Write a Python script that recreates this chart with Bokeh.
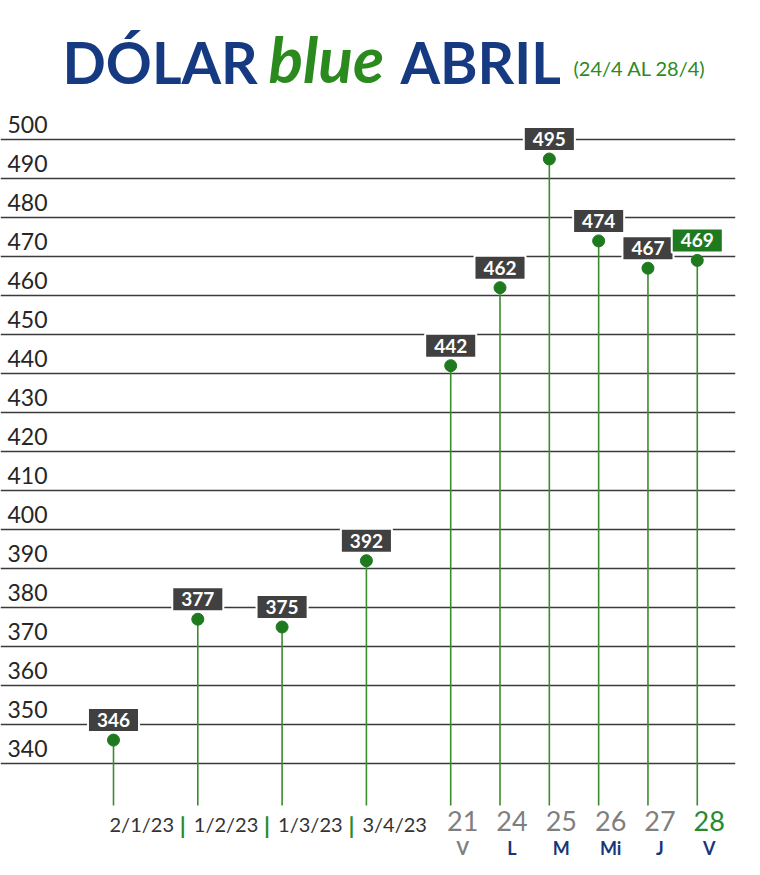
from bokeh.plotting import figure
from bokeh.models import FixedTicker, ColumnDataSource
from bokeh.core.properties import value
from bokeh.embed import file_html
from bokeh.resources import INLINE

# ---- data ----
hist_dates = ["2/1/23", "1/2/23", "1/3/23", "3/4/23"]
hist_values = [346, 377, 375, 392]
week_days = ["21", "24", "25", "26", "27", "28"]
week_letters = ["V", "L", "M", "Mi", "J", "V"]
week_values = [442, 462, 495, 474, 467, 469]
y_ticks = [340, 350, 360, 370, 380, 390, 400, 410, 420, 430, 440, 450, 460, 470, 480, 490, 500]

# ---- layout helpers (reference-pixel -> data) ----
UX = 84.3   # px per x unit
UY = 3.9    # px per y unit
X0_IMG = 113
Y500_IMG = 139

def dx(img_x):
    return (img_x - X0_IMG) / UX

def dy(img_y):
    return 500 + (Y500_IMG - img_y) / UY

def bl(size):
    # correction so that text baseline lands on the given y
    return -0.42 * size

hist_x = [float(i) for i in range(len(hist_dates))]
week_x = [4.0 + 0.585 * i for i in range(len(week_days))]

W, H = 744, 859
FRAME_W = 735
x_start = dx(0)
x_end = dx(FRAME_W)
y_end = dy(0)
y_start = dy(H)

p = figure(width=W, height=H, x_range=(x_start, x_end), y_range=(y_start, y_end),
           output_backend="svg", toolbar_location=None,
           min_border_left=0, min_border_right=W - FRAME_W, min_border_top=0, min_border_bottom=0)
p.axis.visible = False
p.xgrid.visible = False
p.outline_line_color = None
p.ygrid.ticker = FixedTicker(ticks=y_ticks)
p.ygrid.grid_line_color = "#3a3a3a"
p.ygrid.grid_line_width = 1.6
p.background_fill_color = "white"
p.border_fill_color = "white"

FONT = value("Lato")

# y tick labels above grid lines
p.text(x=[x_start] * len(y_ticks), y=y_ticks, text=[str(t) for t in y_ticks],
       text_font=FONT, text_font_size="23px", text_color="#262626",
       text_align="left", text_baseline="alphabetic", y_offset=-5 + bl(23), x_offset=7)

all_x = hist_x + week_x
all_v = hist_values + week_values
stem_bottom = dy(805)

src = ColumnDataSource(dict(
    x=all_x, v=all_v, y1=[stem_bottom] * len(all_x),
    lab=[str(v) for v in all_v],
    box=["#404040"] * (len(all_x) - 1) + ["#1f7a1f"],
))

p.segment(x0="x", y0="v", x1="x", y1="y1", source=src, line_color="#3d8b2f", line_width=1.6)
p.scatter(x="x", y="v", source=src, size=12, fill_color="#1f7a1f", line_color="#1f7a1f")
p.text(x="x", y="v", text="lab", source=src, text_font=FONT, text_font_style="bold",
       text_font_size="19px", text_color="white", text_align="center", text_baseline="middle",
       y_offset=-20, background_fill_color="box", padding=(9, 5),
       border_line_color="white", border_line_width=2)

# bottom labels: historical dates
p.text(x=hist_x, y=[dy(832)] * len(hist_x), text=hist_dates, text_font=FONT,
       text_font_size="20px", text_color="#333333", text_align="left",
       text_baseline="alphabetic", x_offset=-4, y_offset=bl(20))
p.text(x=hist_x[1:], y=[dy(834)] * (len(hist_x) - 1), text=["|"] * (len(hist_x) - 1),
       text_font=FONT, text_font_style="bold", text_font_size="23px", text_color="#2a8a2a",
       text_align="center", text_baseline="alphabetic", x_offset=-15, y_offset=bl(23))

# week day numbers and letters
num_colors = ["#7f7f7f"] * (len(week_days) - 1) + ["#2a8a2a"]
let_colors = ["#7f7f7f"] + ["#17367a"] * (len(week_letters) - 1)
p.text(x=week_x, y=[dy(832)] * len(week_x), text=week_days, text_font=FONT,
       text_font_size="27px", text_color=num_colors, text_align="center",
       text_baseline="alphabetic", x_offset=12, y_offset=bl(27))
p.text(x=week_x, y=[dy(855)] * len(week_x), text=week_letters, text_font=FONT,
       text_font_style="bold", text_font_size="18px", text_color=let_colors,
       text_align="center", text_baseline="alphabetic", x_offset=12, y_offset=bl(18))

# title
NAVY = "#163a82"
GREEN = "#2b8a1e"
p.text(x=[dx(62)], y=[dy(85)], text=["DÓLAR"], text_font=FONT, text_font_style="bold",
       text_font_size="57px", text_color=NAVY, text_align="left", text_baseline="alphabetic",
       y_offset=bl(57))
p.text(x=[dx(268)], y=[dy(85)], text=["blue"], text_font=FONT, text_font_style="bold italic",
       text_font_size="64px", text_color=GREEN, text_align="left", text_baseline="alphabetic",
       y_offset=bl(64))
p.text(x=[dx(400)], y=[dy(85)], text=["ABRIL"], text_font=FONT, text_font_style="bold",
       text_font_size="57px", text_color=NAVY, text_align="left", text_baseline="alphabetic",
       y_offset=bl(57))
p.text(x=[dx(573)], y=[dy(76)], text=["(24/4 AL 28/4)"], text_font=FONT,
       text_font_size="20px", text_color=GREEN, text_align="left", text_baseline="alphabetic",
       y_offset=bl(20))

open("out.html", "w").write(file_html(p, INLINE))
